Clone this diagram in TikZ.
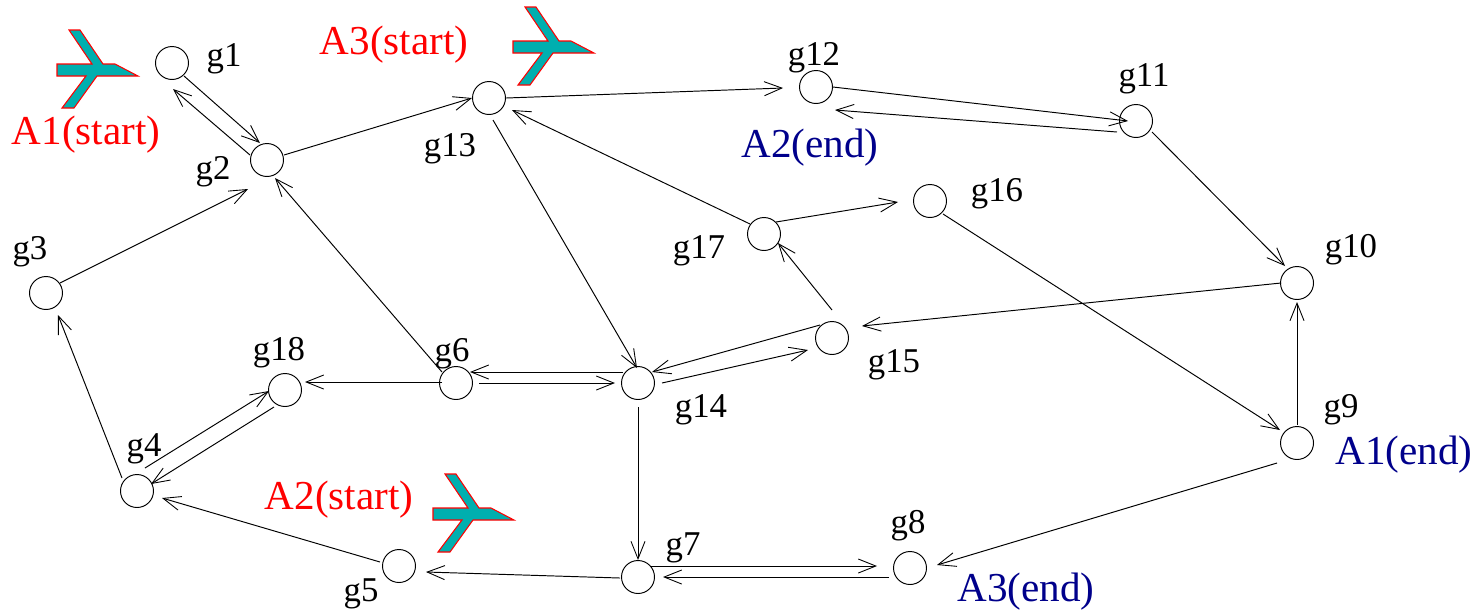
\documentclass[tikz,border=0pt]{standalone}
\usepackage{fontspec}
\setmainfont{Liberation Serif}
\usetikzlibrary{arrows.meta}
\definecolor{planeF}{RGB}{0,175,175}
\definecolor{startR}{RGB}{255,0,0}
\definecolor{endB}{RGB}{0,0,139}
\tikzset{gate/.style={circle, draw, line width=0.55pt, minimum size=0.66cm, inner sep=0pt},
  link/.style={-{Straight Barb[length=10pt, width=8pt, line width=0.5pt]}, line width=0.55pt},
  glabel/.style={font=\fontsize{19.8pt}{21pt}\selectfont, inner sep=0pt},
  startlabel/.style={font=\fontsize{23.4pt}{25pt}\selectfont, text=startR, inner sep=0pt},
  endlabel/.style={font=\fontsize{23.4pt}{25pt}\selectfont, text=endB, inner sep=0pt}}

\begin{document}
\begin{tikzpicture}[x=0.02cm, y=-0.02cm]
\useasboundingbox (0,0) rectangle (1483,610);
% gates
\foreach \name/\x/\y in {g1/172/63, g2/267/160, g3/46/293, g4/137/491, g5/399/566, g6/456/383,
  g7/638/577, g8/910/568, g9/1297/443, g10/1297/283, g11/1136/121, g12/816/87, g13/489/98,
  g14/638/383, g15/832/338, g16/930/201, g17/764/234, g18/285/390}
  \node[gate] (\name) at (\x,\y) {};
% gate labels
\foreach \name/\x/\y/\txt in {l1/224/59/g1, l2/213/172/g2, l3/30/252/g3, l4/144/449/g4, l5/361/594/g5,
  l6/452/354/g6, l7/683/548/g7, l8/908/526/g8, l9/1341/410/g9, l10/1351/250/g10, l11/1144/79/g11,
  l12/814/58/g12, l13/450/149/g13, l14/701/410/g14, l15/894/365/g15, l16/997/194/g16,
  l17/699/251/g17, l18/279/353/g18}
  \node[glabel] (\name) at (\x,\y) {\txt};
% flights
\node[startlabel] (a1s) at (86,135) {A1(start)};
\node[startlabel] (a3s) at (394,45) {A3(start)};
\node[startlabel] (a2s) at (339,500) {A2(start)};
\node[endlabel] (a2e) at (810,148) {A2(end)};
\node[endlabel] (a1e) at (1404,455) {A1(end)};
\node[endlabel] (a3e) at (1026,592) {A3(end)};
% planes
\foreach \dx/\dy in {0/0, 456/-23, 376/444}
  \draw[shift={(\dx,\dy)}, startR, fill=planeF, line width=0.6pt]
    (57,64) -- (92,64) -- (69,30) -- (80,30) -- (103,64) -- (115,64) -- (138,76) -- (97,76)
    -- (74,108) -- (62,108) -- (86,76) -- (57,76) -- cycle;
% links: from gate, offset of the free end, to gate, offset of the tip
\foreach \a/\ax/\ay/\b/\bx/\by in {g1/12/13/g2/-7/-17, g2/-17/-5/g1/1/26, g3/14/-10/g2/-19/29,
  g2/17/-5/g13/-17/0, g13/17/0/g12/-33/1, g12/17/0/g11/-8/0, g11/-19/11/g12/19/23,
  g11/16/11/g10/-12/-17, g16/13/13/g9/-17/-13, g9/0/-18/g10/0/19, g10/-16/0/g15/30/-12,
  g15/0/-28/g17/14/9, g17/12/-12/g16/-32/1, g17/-14/-10/g13/23/12, g13/4/22/g14/-1/-15,
  g6/-14/-11/g2/8/18, g6/-14/-1/g18/20/-8, g14/-15/-11/g6/14/-11, g6/23/0/g14/-23/0,
  g15/-12/-13/g14/14/-11, g14/24/0/g15/-24/12, g14/0/24/g7/0/-17, g4/-15/-13/g3/12/22,
  g4/8/-23/g18/-16/1, g18/-11/17/g4/14/-7, g5/-19/-4/g4/25/7, g7/-18/1/g5/27/6,
  g7/12/-11/g8/-33/-2, g8/-21/9/g7/25/0, g9/-20/20/g8/27/-3}
  \draw[link] ([shift={(\ax,\ay)}]\a.center) -- ([shift={(\bx,\by)}]\b.center);
\end{tikzpicture}
\end{document}
